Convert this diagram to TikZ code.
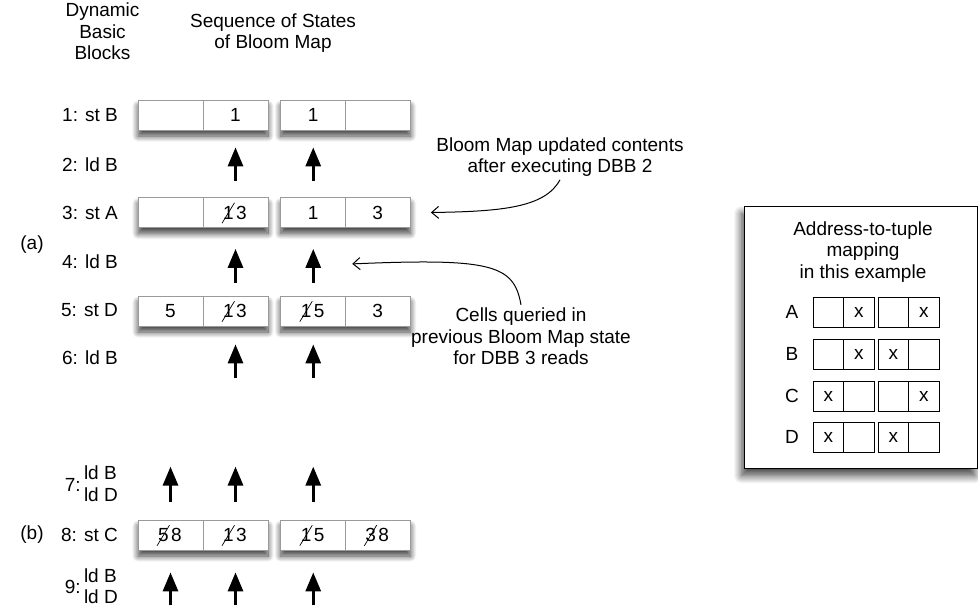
\documentclass[tikz,border=0pt]{standalone}
\usepackage{fontspec}
\setmainfont{Liberation Sans}
\usetikzlibrary{arrows.meta,shadows.blur}
\definecolor{cellgray}{HTML}{9A9A9A}

\begin{document}
\begin{tikzpicture}[x=1pt,y=-1pt,
  font=\fontsize{19}{21.5}\selectfont,
  txt/.style={inner sep=0pt},
  rowlabel/.style={txt, anchor=east},
  pairbox/.style={draw=cellgray, fill=white, line width=0.8pt,
    minimum width=130pt, minimum height=30pt, inner sep=0pt,
    blur shadow={shadow xshift=0pt, shadow yshift=-6pt,
      shadow blur radius=6pt, shadow opacity=75, shadow blur steps=14}},
  cellbox/.style={draw=cellgray, line width=0.8pt,
    minimum width=65pt, minimum height=30pt, inner sep=0pt},
  digit/.style={inner sep=0pt},
  struck/.style={digit, append after command={
    ([xshift=-1pt,yshift=-4pt]\tikzlastnode.south west)
      edge[line width=0.7pt]
    ([xshift=0.5pt,yshift=3pt]\tikzlastnode.north east)}},
  readarrow/.style={line width=3pt, -{Triangle[width=15pt,length=19pt]}},
  note/.style={line width=1pt, -{Straight Barb[length=7pt,width=12pt]}},
  legendbox/.style={draw=black, line width=1.3pt, fill=white,
    blur shadow={shadow xshift=-3pt, shadow yshift=-7pt,
      shadow blur radius=8pt, shadow opacity=75, shadow blur steps=14}},
  mapcell/.style={draw=black, line width=0.9pt,
    minimum width=30.5pt, minimum height=30pt, inner sep=0pt},
]
\useasboundingbox (0,0) rectangle (978,611);

% column headings
\node[txt, align=center] (hdbb) at (102.5,31.5) {Dynamic\\Basic\\Blocks};
\node[txt, align=center] (hseq) at (273,33) {Sequence of States\\of Bloom Map};

% Bloom map states: two pairs of cells per state
\foreach \r/\y in {r1/115, r3/212.5, r5/311, r8/535} {
  \node[pairbox] (\r-a) at (203,\y) {};
  \node[pairbox] (\r-b) at (345.5,\y) {};
  \node[cellbox] (\r-c1) at (170.5,\y) {};
  \node[cellbox] (\r-c2) at (235.5,\y) {};
  \node[cellbox] (\r-c3) at (313.25,\y) {};
  \node[cellbox] (\r-c4) at (377.75,\y) {};
}

% cell contents
\node[digit] at (r1-c2) {1};
\node[digit] at (r1-c3) {1};

\node[struck] (r3-c2-old) at ([xshift=-7pt]r3-c2.center) {1};
\node[digit] (r3-c2-new) at ([xshift=6pt]r3-c2.center) {3};
\node[digit] at (r3-c3) {1};
\node[digit] at (r3-c4) {3};

\node[digit] at (r5-c1) {5};
\node[struck] (r5-c2-old) at ([xshift=-7pt]r5-c2.center) {1};
\node[digit] (r5-c2-new) at ([xshift=6pt]r5-c2.center) {3};
\node[struck] (r5-c3-old) at ([xshift=-7pt]r5-c3.center) {1};
\node[digit] (r5-c3-new) at ([xshift=6pt]r5-c3.center) {5};
\node[digit] at (r5-c4) {3};

\node[struck] (r8-c1-old) at ([xshift=-7pt]r8-c1.center) {5};
\node[digit] (r8-c1-new) at ([xshift=6pt]r8-c1.center) {8};
\node[struck] (r8-c2-old) at ([xshift=-7pt]r8-c2.center) {1};
\node[digit] (r8-c2-new) at ([xshift=6pt]r8-c2.center) {3};
\node[struck] (r8-c3-old) at ([xshift=-7pt]r8-c3.center) {1};
\node[digit] (r8-c3-new) at ([xshift=6pt]r8-c3.center) {5};
\node[struck] (r8-c4-old) at ([xshift=-7pt]r8-c4.center) {3};
\node[digit] (r8-c4-new) at ([xshift=6pt]r8-c4.center) {8};

% dynamic basic block labels
\node[rowlabel] (l1) at (118,115) {1: st B};
\node[rowlabel] (l2) at (118,165) {2: ld B};
\node[rowlabel] (l3) at (118,213) {3: st A};
\node[rowlabel] (l4) at (118,262) {4: ld B};
\node[rowlabel] (l5) at (118,310) {5: st D};
\node[rowlabel] (l6) at (118,358) {6: ld B};
\node[rowlabel, align=left] (l7) at (118,483.5) {ld B\\ld D};
\node[txt, anchor=east] (l7n) at ([xshift=-3pt,yshift=-1pt]l7.west) {7:};
\node[rowlabel] (l8) at (118,535) {8: st C};
\node[rowlabel, align=left] (l9) at (118,586) {ld B\\ld D};
\node[txt, anchor=east] (l9n) at ([xshift=-3pt,yshift=-1pt]l9.west) {9:};

\node[txt] (pa) at (32,245) {(a)};
\node[txt] (pb) at (32,535) {(b)};

% reads between states
\foreach \c in {c2,c3} {
  \draw[readarrow, shorten <=16pt, shorten >=17pt] (r3-\c.north) -- (r1-\c.south);
  \draw[readarrow, shorten <=13pt, shorten >=21pt] (r5-\c.north) -- (r3-\c.south);
  \draw[readarrow] ([yshift=-52pt]r5-\c.south) -- ([yshift=-18pt]r5-\c.south);
}
\foreach \c in {c1,c2,c3} {
  \draw[readarrow] ([yshift=18pt]r8-\c.north) -- ([yshift=53pt]r8-\c.north);
  \draw[readarrow] ([yshift=-55pt]r8-\c.south) -- ([yshift=-22pt]r8-\c.south);
}

% annotations
\node[txt, align=center] (upd) at (560,157) {Bloom Map updated contents\\after executing DBB 2};
\coordinate (updtip) at ([xshift=20pt]r3-b.east);
\draw[note] ([yshift=-3pt]upd.south) .. controls +(-15,28) and +(70,-1) .. (updtip);

\node[txt, align=center] (qry) at (521,336.5) {Cells queried in\\previous Bloom Map state\\for DBB 3 reads};
\coordinate (qrytip) at ([xshift=39pt,yshift=-36pt]r3-c3.south);
\draw[note] ([yshift=3pt]qry.north) .. controls +(-7,-40) and +(140,-6) .. (qrytip);

% address-to-tuple mapping legend
\node[legendbox, anchor=north west, minimum width=233pt, minimum height=262pt,
      inner sep=0pt] (legend) at (744,206) {};
\node[txt, align=center] (legtitle) at (863,252) {Address-to-tuple\\mapping\\in this example};
\foreach \k/\y/\a/\b/\c/\d in {A/312/{}/x/{}/x, B/354/{}/x/x/{}, C/396/x/{}/{}/x, D/437/x/{}/x/{}} {
  \node[txt] (key\k) at (792,\y) {\k};
  \node[mapcell] (m\k1) at (828.25,\y) {\a};
  \node[mapcell] (m\k2) at (858.75,\y) {\b};
  \node[mapcell] (m\k3) at (893.25,\y) {\c};
  \node[mapcell] (m\k4) at (923.75,\y) {\d};
}
\end{tikzpicture}
\end{document}
